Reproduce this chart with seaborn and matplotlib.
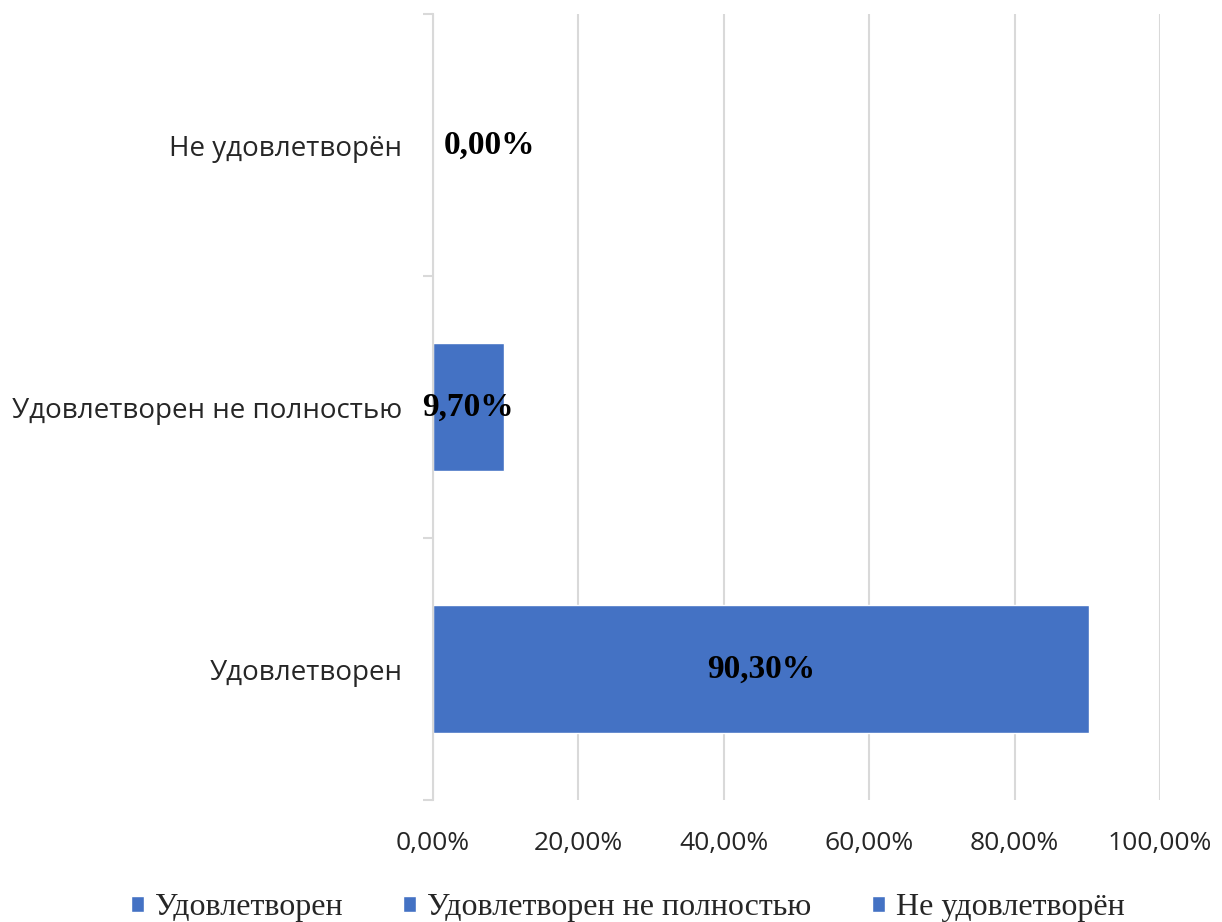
import pandas as pd
import matplotlib.pyplot as plt
import seaborn as sns

# Datos
categorias = ["Удовлетворен", "Удовлетворен не полностью", "Не удовлетворён"]
valores = [90.30, 9.70, 0.00]
ticks_x = [0, 20, 40, 60, 80, 100]

df = pd.DataFrame({"Категория": categorias, "Доля": valores})
orden_y = categorias[::-1]  # de arriba a abajo

sns.set_theme(style="white")
plt.rcParams["font.family"] = ["Open Sans", "DejaVu Sans"]

azul = "#4472C4"
gris = "#D9D9D9"

fig = plt.figure(figsize=(12.22, 9.22), dpi=100)
ax = fig.add_axes([433 / 1222, 1 - 800 / 922, 727 / 1222, 786 / 922])

sns.barplot(data=df, x="Доля", y="Категория", hue="Категория", order=orden_y,
            hue_order=categorias, palette=[azul] * 3, width=0.485, dodge=False,
            saturation=1, legend=True, ax=ax, zorder=2)

ax.set_xlim(0, 100)
ax.set_ylim(2.5, -0.5)
ax.set_xticks(ticks_x)
ax.set_xticklabels([f"{t:.2f}%".replace(".", ",") for t in ticks_x], fontsize=19)
ax.tick_params(axis="x", length=0, pad=22)
ax.tick_params(axis="y", which="major", length=0, pad=22, labelsize=20)
ax.set_yticks([-0.5, 0.5, 1.5, 2.5], minor=True)
ax.tick_params(axis="y", which="minor", left=True, length=7, width=1.5,
               color=gris, direction="out")
ax.set_xlabel("")
ax.set_ylabel("")

ax.grid(axis="x", color=gris, linewidth=1.5, zorder=0)
ax.set_axisbelow(True)
for lado in ["top", "right", "bottom"]:
    ax.spines[lado].set_visible(False)
ax.spines["left"].set_color(gris)
ax.spines["left"].set_linewidth(1.5)

# Etiquetas de datos
for pos, cat in enumerate(orden_y):
    v = valores[categorias.index(cat)]
    texto = f"{v:.2f}%".replace(".", ",")
    if v == 0:
        ax.annotate(texto, (0, pos), xytext=(11, 0), textcoords="offset pixels",
                    ha="left", va="center", fontsize=24, fontweight="bold",
                    family="Liberation Serif", color="black")
    else:
        ax.text(v / 2, pos, texto, ha="center", va="center", fontsize=24,
                fontweight="bold", family="Liberation Serif", color="black")

# Leyenda inferior
leg = ax.legend(loc="center", bbox_to_anchor=(0.268, -0.137), ncol=3,
                frameon=False, handlelength=0.4, handleheight=0.4,
                handletextpad=0.35, columnspacing=1.9, borderpad=0,
                prop={"family": "Liberation Serif", "size": 23})

fig.savefig("out.png", dpi=100)
